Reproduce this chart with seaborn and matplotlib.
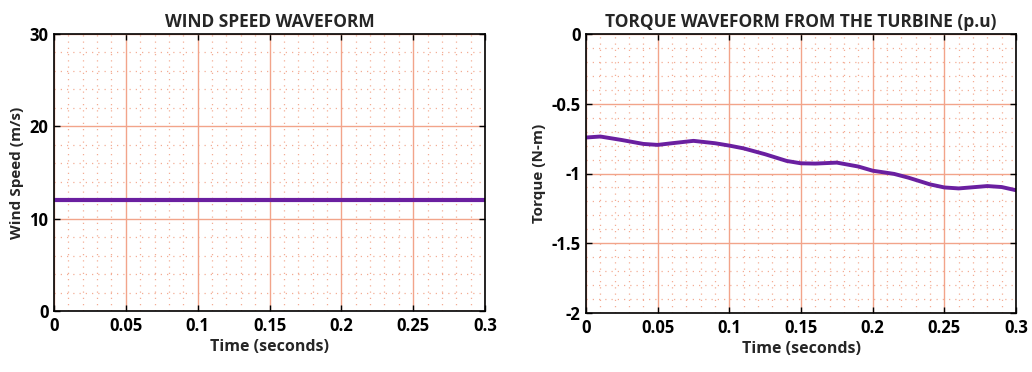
import numpy as np
import pandas as pd
import matplotlib
matplotlib.use("Agg")
import matplotlib.pyplot as plt
import seaborn as sns
from matplotlib.ticker import MultipleLocator, FuncFormatter

# ---- data ----
wind_time = [0.0, 0.3]
wind_speed = [12.0, 12.0]

torque_time = [0.0, 0.01, 0.025, 0.04, 0.05, 0.06, 0.075, 0.09, 0.1, 0.11, 0.125,
               0.14, 0.15, 0.16, 0.175, 0.19, 0.2, 0.215, 0.225, 0.24, 0.25, 0.26,
               0.28, 0.29, 0.3]
torque_val = [-0.742, -0.735, -0.76, -0.788, -0.795, -0.783, -0.766, -0.783, -0.80,
              -0.82, -0.862, -0.91, -0.927, -0.929, -0.922, -0.95, -0.98, -1.003,
              -1.03, -1.078, -1.10, -1.107, -1.09, -1.097, -1.12]

x_ticks = [0, 0.05, 0.1, 0.15, 0.2, 0.25, 0.3]
wind_yticks = [0, 10, 20, 30]
torque_yticks = [-2, -1.5, -1, -0.5, 0]

titles = ["WIND SPEED WAVEFORM", "TORQUE WAVEFORM FROM THE TURBINE (p.u)"]
ylabels = ["Wind Speed (m/s)", "Torque (N-m)"]
xlabel = "Time (seconds)"

sns.set_theme(style="white")
plt.rcParams['font.family'] = ['Open Sans', 'DejaVu Sans']
plt.rcParams['font.weight'] = 'bold'

LINE = "#6a1fa0"
GRID = "#f2a48a"

fig = plt.figure(figsize=(10.32, 3.72), dpi=100)
W, H = 1032, 372
ax1 = fig.add_axes([54 / W, 1 - 311 / H, (485 - 54) / W, (311 - 34) / H])
ax2 = fig.add_axes([586 / W, 1 - 313 / H, (1016 - 586) / W, (313 - 34) / H])

df_w = pd.DataFrame({"t": wind_time, "v": wind_speed})
df_t = pd.DataFrame({"t": torque_time, "v": torque_val})

sns.lineplot(data=df_w, x="t", y="v", ax=ax1, color=LINE, linewidth=3.0)
sns.lineplot(data=df_t, x="t", y="v", ax=ax2, color=LINE, linewidth=2.8)

def fmt(v, pos):
    return f"{v:g}"

for ax, yt, ml, title, yl in [
    (ax1, wind_yticks, 2, titles[0], ylabels[0]),
    (ax2, torque_yticks, 0.1, titles[1], ylabels[1]),
]:
    ax.set_xlim(0, 0.3)
    ax.set_ylim(yt[0], yt[-1])
    ax.set_xticks(x_ticks)
    ax.set_yticks(yt)
    ax.xaxis.set_major_formatter(FuncFormatter(fmt))
    ax.yaxis.set_major_formatter(FuncFormatter(fmt))
    ax.xaxis.set_minor_locator(MultipleLocator(0.01))
    ax.yaxis.set_minor_locator(MultipleLocator(ml))
    ax.grid(True, which="major", color=GRID, linewidth=1.0, linestyle="-")
    ax.grid(True, which="minor", color=GRID, linewidth=0.9, linestyle=(0, (1, 4)), alpha=0.9)
    ax.set_axisbelow(True)
    for sp in ax.spines.values():
        sp.set_color("black")
        sp.set_linewidth(1.2)
    ax.tick_params(axis="both", which="major", direction="in", length=4, width=1,
                   top=True, right=True, bottom=True, left=True,
                   labelsize=12, colors="black", pad=4)
    ax.tick_params(axis="both", which="minor", length=0)
    for lab in ax.get_xticklabels() + ax.get_yticklabels():
        lab.set_fontweight("bold")
    ax.set_title(title, fontsize=12.5, fontweight="bold", pad=5)
    ax.set_xlabel(xlabel, fontsize=11.5, fontweight="bold", labelpad=3)
    ax.set_ylabel(yl, fontsize=11, fontweight="bold", labelpad=4)

fig.savefig("out.png", dpi=100, facecolor="white")
